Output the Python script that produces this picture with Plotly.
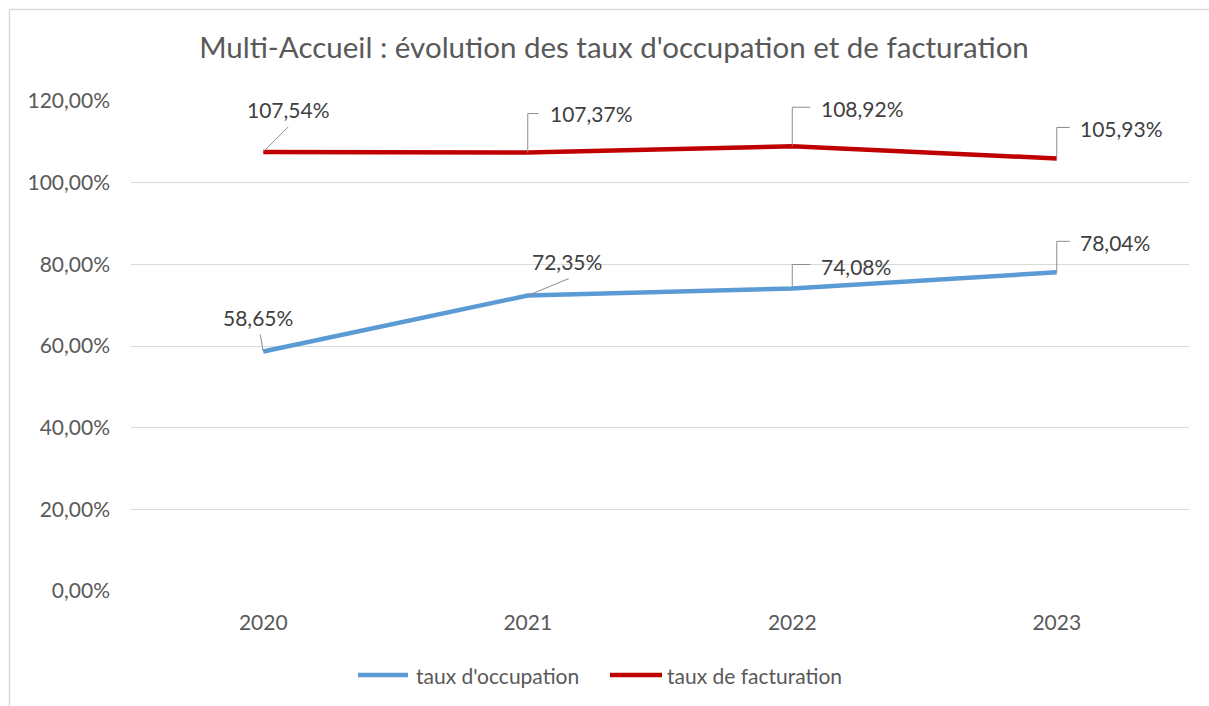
import plotly.graph_objects as go

# ---- data ----
years = ["2020", "2021", "2022", "2023"]
taux_occupation = [0.5865, 0.7235, 0.7408, 0.7804]
taux_facturation = [1.0754, 1.0737, 1.0892, 1.0593]
label_occupation = ["58,65%", "72,35%", "74,08%", "78,04%"]
label_facturation = ["107,54%", "107,37%", "108,92%", "105,93%"]
series_names = ["taux d'occupation", "taux de facturation"]
y_tickvals = [0, 0.2, 0.4, 0.6, 0.8, 1.0, 1.2]
y_ticktext = ["0,00%", "20,00%", "40,00%", "60,00%", "80,00%", "100,00%", "120,00%"]

# ---- layout constants (page pixels; body margin removed in post_script) ----
W, H = 1209, 706
PL, PR, PT, PB = 131, 1189, 101, 591          # plot area in page pixels
ML, MT = PL, PT
MR = W - PR
MB = H - PB
pw, ph = W - ML - MR, H - MT - MB
FONT = "Lato"
GREY = "#595959"
DARK = "#404040"
BLUE = "#5B9BD5"
RED = "#C00000"
FS = 21


def px_to_paper_x(px):
    return (px - PL) / pw


def px_to_paper_y(py):
    return (PB - py) / ph


xs = list(range(len(years)))

fig = go.Figure()
fig.add_trace(go.Scatter(x=xs, y=taux_occupation, mode="lines", name=series_names[0],
                         line=dict(color=BLUE, width=4.5), hoverinfo="skip", showlegend=False))
fig.add_trace(go.Scatter(x=xs, y=taux_facturation, mode="lines", name=series_names[1],
                         line=dict(color=RED, width=4.5), hoverinfo="skip", showlegend=False))

# label placement (pixel offsets from the point): (xshift, y offset downwards, anchor)
fact_lab = [(25, -42, "center"), (20, -39, "left"), (27, -38, "left"), (21, -30, "left")]
occ_lab = [(-5, -34, "center"), (39, -34, "center"), (27, -22, "left"), (21, -30, "left")]
# leader paths in pixel offsets (y up positive)
fact_lead = ["M0,0 L25,25", "M0,0 L0,39 L11,39", "M0,0 L0,39 L18,39", "M0,0 L0,31 L13,31"]
occ_lead = ["M0,0 L-3,17", "M0,0 L41,17", "M0,0 L0,24 L18,24", "M0,0 L0,31 L13,31"]

annotations = []
shapes = []
for vals, labs, pl, leads in [(taux_facturation, label_facturation, fact_lab, fact_lead),
                              (taux_occupation, label_occupation, occ_lab, occ_lead)]:
    for i, (v, t) in enumerate(zip(vals, labs)):
        dx, dy, anc = pl[i]
        annotations.append(dict(x=xs[i], y=v, xref="x", yref="y", text=t, showarrow=False,
                                xshift=dx, yshift=-dy, xanchor=anc, yanchor="middle",
                                font=dict(family=FONT, size=FS, color=DARK)))
        shapes.append(dict(type="path", xref="x", yref="y", xsizemode="pixel", ysizemode="pixel",
                           xanchor=xs[i], yanchor=v, path=leads[i],
                           line=dict(color="#8c8c8c", width=1), layer="above"))

# custom legend (line sample + text)
legend_items = [(358, 408, 414, BLUE), (610, 662, 665, RED)]
LEG_Y = 675
for (lx0, lx1, tx, col), name in zip(legend_items, series_names):
    shapes.append(dict(type="line", xref="paper", yref="paper",
                       x0=px_to_paper_x(lx0), x1=px_to_paper_x(lx1),
                       y0=px_to_paper_y(LEG_Y), y1=px_to_paper_y(LEG_Y),
                       line=dict(color=col, width=4.5)))
    annotations.append(dict(x=px_to_paper_x(tx), y=px_to_paper_y(LEG_Y), xref="paper", yref="paper",
                            text=name, showarrow=False, xanchor="left", yanchor="middle",
                            font=dict(family=FONT, size=FS, color=GREY)))

# chart border (top and left visible)
bx = px_to_paper_x(9.5)
by = px_to_paper_y(9.5)
shapes.append(dict(type="line", xref="paper", yref="paper", x0=bx, x1=px_to_paper_x(1215), y0=by, y1=by,
                   line=dict(color="#d9d9d9", width=1.5)))
shapes.append(dict(type="line", xref="paper", yref="paper", x0=bx, x1=bx, y0=by, y1=px_to_paper_y(720),
                   line=dict(color="#d9d9d9", width=1.5)))

fig.update_layout(
    width=W, height=H,
    margin=dict(l=ML, r=MR, t=MT, b=MB),
    paper_bgcolor="white", plot_bgcolor="white",
    title=dict(text="Multi-Accueil : évolution des taux d'occupation et de facturation",
               x=614 / W, xanchor="center", y=1 - 48 / H, yanchor="middle",
               font=dict(family=FONT, size=29.5, color=GREY)),
    xaxis=dict(range=[-0.5, 3.5], tickvals=xs, ticktext=years, showgrid=False, zeroline=False,
               showline=False, ticks="", ticklabelstandoff=17,
               tickfont=dict(family=FONT, size=FS, color=GREY)),
    yaxis=dict(range=[0, 1.2], tickvals=y_tickvals, ticktext=y_ticktext, showgrid=True,
               gridcolor="#d9d9d9", gridwidth=1, zeroline=False, showline=False, ticks="",
               ticklabelstandoff=20,
               tickfont=dict(family=FONT, size=FS, color=GREY)),
    showlegend=False,
    hovermode=False,
    annotations=annotations,
    shapes=shapes,
)

fig.write_html("out.html", config={"displayModeBar": False},
               post_script="document.body.style.margin='0';document.body.style.overflow='hidden';")
